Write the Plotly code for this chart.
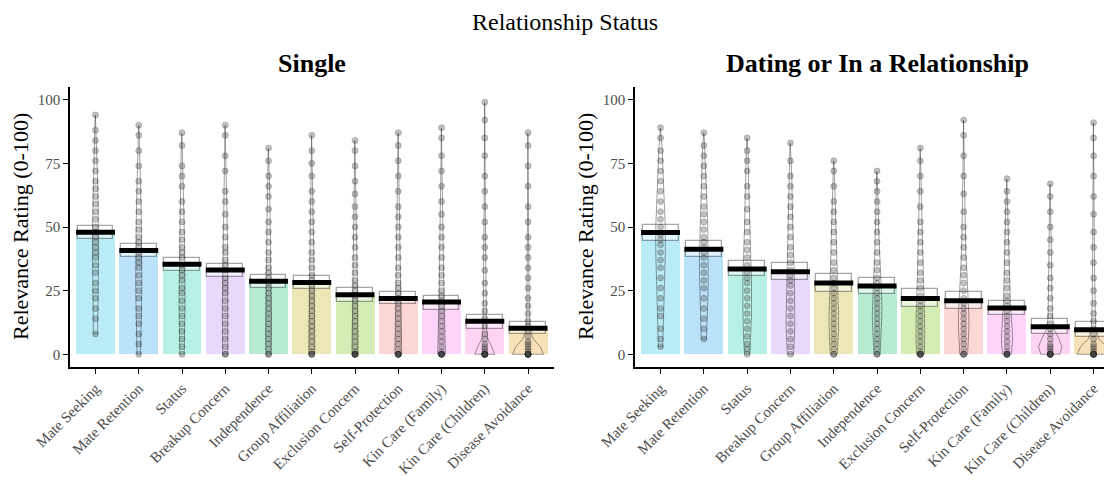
import numpy as np
import plotly.graph_objects as go

# ---------------- data ----------------
cats_single = ["Mate Seeking", "Mate Retention", "Status", "Breakup Concern", "Independence",
               "Group Affiliation", "Exclusion Concern", "Self-Protection", "Kin Care (Family)",
               "Kin Care (Children)", "Disease Avoidance"]
cats_dating = ["Mate Seeking", "Mate Retention", "Status", "Breakup Concern", "Group Affiliation",
               "Independence", "Exclusion Concern", "Self-Protection", "Kin Care (Family)",
               "Kin Care (Children)", "Disease Avoidance"]

mean_single = [47.9, 40.8, 35.4, 33.1, 28.7, 28.2, 23.4, 21.9, 20.5, 13.0, 10.2]
cilo_single = [45.3, 38.3, 32.8, 30.4, 26.1, 25.6, 20.6, 19.6, 17.4, 10.1, 7.9]
cihi_single = [50.4, 43.3, 37.7, 35.6, 31.2, 30.8, 26.1, 24.3, 23.0, 15.6, 12.6]

mean_dating = [47.8, 41.3, 33.5, 32.4, 28.0, 26.8, 21.9, 21.0, 18.2, 10.8, 9.6]
cilo_dating = [44.5, 38.3, 30.6, 29.3, 24.3, 23.6, 18.6, 17.8, 15.5, 7.9, 6.7]
cihi_dating = [50.9, 44.5, 36.6, 35.7, 31.5, 29.9, 25.5, 24.3, 21.1, 13.7, 12.5]

cat_colors = {
    "Mate Seeking": "rgba(110,215,240,0.48)",
    "Mate Retention": "rgba(110,195,245,0.48)",
    "Status": "rgba(105,225,200,0.48)",
    "Breakup Concern": "rgba(210,175,245,0.48)",
    "Independence": "rgba(105,215,160,0.48)",
    "Group Affiliation": "rgba(215,205,105,0.48)",
    "Exclusion Concern": "rgba(170,215,100,0.48)",
    "Self-Protection": "rgba(250,165,165,0.45)",
    "Kin Care (Family)": "rgba(250,160,245,0.45)",
    "Kin Care (Children)": "rgba(250,160,225,0.45)",
    "Disease Avoidance": "rgba(240,195,115,0.50)",
}

# raw-rating samples (approximate)
pts_single = [
    [94, 88, 84, 80, 76, 72, 68, 65, 62, 59, 56, 53, 50, 48, 46, 44, 42, 40, 38, 35, 32, 28, 25, 22, 18, 14, 8],
    [90, 86, 80, 74, 68, 64, 60, 56, 52, 49, 46, 44, 42, 40, 38, 36, 34, 31, 28, 25, 22, 18, 15, 12, 8, 4, 0],
    [87, 82, 74, 70, 66, 60, 56, 52, 48, 45, 42, 40, 38, 35, 33, 31, 29, 26, 24, 21, 18, 15, 12, 9, 6, 3, 0],
    [90, 86, 78, 72, 64, 60, 55, 50, 46, 42, 40, 37, 35, 33, 30, 28, 26, 24, 21, 18, 15, 12, 9, 6, 3, 0, 0],
    [81, 76, 70, 66, 62, 57, 52, 48, 44, 40, 37, 34, 32, 30, 28, 26, 24, 22, 20, 18, 16, 14, 12, 10, 8, 6, 4, 2, 0, 0],
    [86, 80, 75, 70, 64, 60, 56, 52, 48, 44, 40, 37, 34, 31, 29, 27, 25, 23, 21, 19, 17, 15, 13, 11, 9, 7, 5, 3, 1, 0, 0, 0],
    [84, 80, 74, 68, 63, 58, 54, 50, 46, 42, 38, 35, 32, 29, 27, 25, 23, 21, 19, 17, 15, 13, 11, 9, 7, 5, 3, 1, 0, 0, 0, 0, 0, 0],
    [87, 82, 76, 70, 64, 58, 54, 50, 46, 42, 38, 34, 31, 28, 26, 24, 22, 20, 18, 16, 14, 12, 10, 8, 6, 4, 2, 0, 0, 0, 0, 0, 0],
    [89, 85, 78, 72, 66, 60, 55, 50, 46, 42, 38, 34, 31, 28, 25, 23, 21, 19, 17, 15, 13, 11, 9, 7, 5, 3, 1, 0, 0, 0, 0, 0, 0],
    [99, 92, 85, 78, 70, 64, 58, 52, 46, 42, 38, 33, 28, 24, 20, 17, 14, 11, 8, 6, 4, 3, 2, 1, 0, 0, 0, 0, 0, 0, 0, 0],
    [87, 82, 74, 66, 58, 52, 46, 42, 38, 34, 30, 26, 22, 19, 16, 13, 11, 9, 7, 5, 4, 3, 2, 1, 0, 0, 0, 0, 0, 0, 0, 0],
]
pts_dating = [
    [89, 85, 80, 76, 72, 68, 64, 60, 56, 53, 50, 47, 45, 43, 40, 37, 34, 30, 26, 22, 18, 15, 10, 6, 3],
    [87, 82, 78, 74, 70, 66, 62, 58, 55, 52, 49, 46, 44, 42, 40, 38, 35, 32, 29, 26, 22, 18, 14, 10, 6],
    [85, 80, 76, 72, 66, 62, 57, 52, 48, 44, 41, 38, 35, 32, 30, 28, 25, 22, 19, 16, 13, 10, 7, 4, 2, 0],
    [83, 76, 70, 66, 62, 58, 54, 50, 46, 42, 39, 36, 33, 31, 29, 27, 24, 21, 18, 15, 12, 9, 6, 3, 0],
    [76, 72, 66, 60, 56, 52, 48, 44, 40, 36, 33, 30, 28, 26, 24, 22, 20, 18, 16, 14, 12, 10, 8, 6, 4, 2, 0, 0],
    [72, 68, 64, 60, 56, 52, 48, 44, 40, 36, 33, 30, 28, 26, 24, 22, 20, 18, 16, 14, 12, 10, 8, 6, 4, 2, 0, 0],
    [81, 76, 70, 64, 58, 52, 48, 44, 40, 36, 32, 29, 26, 23, 21, 19, 17, 15, 13, 11, 9, 7, 5, 3, 1, 0, 0, 0, 0, 0],
    [92, 86, 78, 70, 63, 56, 50, 46, 42, 38, 34, 31, 28, 25, 22, 20, 18, 16, 14, 12, 10, 8, 6, 4, 2, 0, 0, 0],
    [69, 64, 60, 56, 52, 48, 44, 40, 36, 32, 29, 26, 23, 21, 19, 17, 15, 13, 11, 9, 7, 5, 3, 1, 0, 0, 0, 0, 0],
    [67, 62, 56, 50, 45, 40, 35, 30, 26, 22, 18, 15, 12, 10, 8, 6, 4, 3, 2, 1, 0, 0, 0, 0, 0, 0, 0],
    [91, 85, 78, 70, 62, 55, 48, 42, 36, 30, 25, 20, 16, 13, 10, 8, 6, 4, 3, 2, 1, 0, 0, 0, 0, 0, 0, 0],
]

# estimated density (bean half-width, in category units) at these rating levels
dens_levels = [0, 3, 6, 10, 15, 20, 30, 40, 50, 60, 70, 80, 90, 100]
dens_single = [
    [0.04, 0.04, 0.045, 0.05, 0.055, 0.06, 0.065, 0.07, 0.07, 0.06, 0.045, 0.03, 0.015, 0.005],
    [0.04, 0.045, 0.05, 0.055, 0.06, 0.065, 0.07, 0.07, 0.06, 0.05, 0.04, 0.025, 0.01, 0.004],
    [0.05, 0.05, 0.055, 0.06, 0.065, 0.07, 0.07, 0.06, 0.05, 0.04, 0.03, 0.02, 0.008, 0.003],
    [0.06, 0.06, 0.06, 0.065, 0.07, 0.07, 0.065, 0.055, 0.045, 0.035, 0.025, 0.015, 0.008, 0.003],
    [0.06, 0.065, 0.07, 0.07, 0.07, 0.065, 0.06, 0.05, 0.04, 0.03, 0.02, 0.01, 0.004, 0.002],
    [0.07, 0.07, 0.07, 0.07, 0.07, 0.065, 0.055, 0.045, 0.035, 0.025, 0.018, 0.01, 0.004, 0.002],
    [0.07, 0.07, 0.07, 0.07, 0.065, 0.06, 0.05, 0.04, 0.03, 0.022, 0.015, 0.008, 0.004, 0.002],
    [0.08, 0.08, 0.075, 0.07, 0.065, 0.06, 0.05, 0.04, 0.03, 0.022, 0.015, 0.01, 0.005, 0.002],
    [0.09, 0.085, 0.08, 0.075, 0.07, 0.06, 0.05, 0.04, 0.03, 0.022, 0.015, 0.01, 0.006, 0.003],
    [0.23, 0.16, 0.07, 0.04, 0.035, 0.03, 0.025, 0.02, 0.015, 0.012, 0.01, 0.008, 0.005, 0.003],
    [0.36, 0.28, 0.12, 0.04, 0.03, 0.025, 0.02, 0.015, 0.012, 0.01, 0.008, 0.006, 0.004, 0.002],
]
dens_dating = [
    [0.05, 0.05, 0.055, 0.06, 0.07, 0.08, 0.09, 0.11, 0.11, 0.08, 0.06, 0.04, 0.02, 0.005],
    [0.05, 0.05, 0.06, 0.07, 0.08, 0.09, 0.1, 0.1, 0.09, 0.07, 0.05, 0.03, 0.01, 0.004],
    [0.06, 0.07, 0.08, 0.09, 0.1, 0.1, 0.1, 0.08, 0.06, 0.045, 0.03, 0.02, 0.008, 0.003],
    [0.07, 0.08, 0.09, 0.1, 0.1, 0.1, 0.09, 0.07, 0.05, 0.04, 0.03, 0.015, 0.006, 0.002],
    [0.08, 0.09, 0.1, 0.11, 0.11, 0.1, 0.08, 0.06, 0.04, 0.03, 0.015, 0.006, 0.003, 0.002],
    [0.07, 0.08, 0.09, 0.1, 0.11, 0.11, 0.08, 0.05, 0.035, 0.025, 0.012, 0.005, 0.002, 0.001],
    [0.09, 0.1, 0.1, 0.1, 0.1, 0.09, 0.07, 0.05, 0.035, 0.025, 0.015, 0.008, 0.004, 0.002],
    [0.09, 0.1, 0.11, 0.12, 0.12, 0.11, 0.08, 0.05, 0.035, 0.025, 0.015, 0.01, 0.006, 0.003],
    [0.1, 0.12, 0.13, 0.12, 0.1, 0.08, 0.06, 0.045, 0.035, 0.025, 0.015, 0.008, 0.004, 0.002],
    [0.22, 0.27, 0.2, 0.08, 0.05, 0.04, 0.03, 0.025, 0.02, 0.015, 0.01, 0.008, 0.005, 0.003],
    [0.38, 0.3, 0.12, 0.05, 0.04, 0.03, 0.025, 0.02, 0.015, 0.012, 0.01, 0.008, 0.005, 0.003],
]

# ---------------- figure ----------------
FONT = "Liberation Serif, Times New Roman, serif"
W, H = 1112, 491
OFF = 8  # page body margin: screen position = figure position + OFF


def px(sx):
    return (sx - OFF) / W


def py(sy):
    return 1 - (sy - OFF) / H


fig = go.Figure()

panels = [
    (cats_single, mean_single, cilo_single, cihi_single, pts_single, dens_single, "x", "y"),
    (cats_dating, mean_dating, cilo_dating, cihi_dating, pts_dating, dens_dating, "x2", "y2"),
]

BAR_W = 0.9
BOX_W = 0.83
for cats, means, lo, hi, pts, dens, xa, ya in panels:
    xs = list(range(len(cats)))
    # bars
    fig.add_trace(go.Bar(x=xs, y=means, width=BAR_W,
                         marker=dict(color=[cat_colors[c] for c in cats], line=dict(width=0)),
                         xaxis=xa, yaxis=ya, showlegend=False, hoverinfo="skip"))
    for i, c in enumerate(cats):
        vals = pts[i]
        vmin, vmax = min(vals), max(vals)
        lev = [vmin] + [l for l in dens_levels if vmin < l < vmax] + [vmax]
        wd = np.interp(lev, dens_levels, dens[i])
        wd[-1] = min(wd[-1], 0.004)
        bx = [i + w for w in wd] + [i - w for w in wd[::-1]] + [i + wd[0]]
        by = lev + lev[::-1] + [lev[0]]
        fig.add_trace(go.Scatter(x=bx, y=by, mode="lines",
                                 line=dict(color="rgba(0,0,0,0.38)", width=1),
                                 xaxis=xa, yaxis=ya, showlegend=False, hoverinfo="skip"))
        fig.add_trace(go.Scatter(x=[i] * len(vals), y=vals, mode="markers",
                                 marker=dict(size=6, color="rgba(60,60,60,0.3)",
                                             line=dict(color="rgba(30,30,30,0.3)", width=0.8)),
                                 xaxis=xa, yaxis=ya, showlegend=False, hoverinfo="skip"))
    # inference bands
    fig.add_trace(go.Bar(x=xs, y=[h - l for h, l in zip(hi, lo)], base=lo, width=BOX_W,
                         marker=dict(color="rgba(255,255,255,0.55)",
                                     line=dict(color="rgba(0,0,0,0.35)", width=1.3)),
                         xaxis=xa, yaxis=ya, showlegend=False, hoverinfo="skip"))
    # mean lines
    mx, my = [], []
    for i, m in enumerate(means):
        mx += [i - BAR_W / 2, i + BAR_W / 2, None]
        my += [m, m, None]
    fig.add_trace(go.Scatter(x=mx, y=my, mode="lines", line=dict(color="black", width=5),
                             xaxis=xa, yaxis=ya, showlegend=False, hoverinfo="skip"))

ydom = [py(367), py(87)]
axis_common = dict(showgrid=False, zeroline=False, showline=True, linecolor="black", linewidth=1.6,
                   ticks="outside", ticklen=5, tickwidth=1.2, tickcolor="black", automargin=False,
                   tickfont=dict(family=FONT, size=15, color="#4d4d4d"))
yaxis_common = dict(axis_common, range=[-5, 105], tickvals=[0, 25, 50, 75, 100], domain=ydom)

fig.update_layout(
    template="none",
    width=W, height=H, margin=dict(l=0, r=0, t=0, b=0, pad=0),
    paper_bgcolor="white", plot_bgcolor="white",
    barmode="overlay", bargap=0,
    xaxis=dict(axis_common, domain=[px(70), px(554)], range=[-0.59, 10.6],
               tickvals=list(range(len(cats_single))), ticktext=cats_single, tickangle=-45, anchor="y"),
    yaxis=dict(yaxis_common, anchor="x"),
    xaxis2=dict(axis_common, domain=[px(635), 1.0], range=[-0.59, 10.61],
                tickvals=list(range(len(cats_dating))), ticktext=cats_dating, tickangle=-45, anchor="y2"),
    yaxis2=dict(yaxis_common, anchor="x2"),
    font=dict(family=FONT),
    annotations=[
        dict(text="Relationship Status", x=px(565), y=py(22), xref="paper", yref="paper",
             showarrow=False, font=dict(family=FONT, size=24, color="black"),
             xanchor="center", yanchor="middle"),
        dict(text="<b>Single</b>", x=px(312), y=py(63), xref="paper", yref="paper",
             showarrow=False, font=dict(family=FONT, size=26, color="black"),
             xanchor="center", yanchor="middle"),
        dict(text="<b>Dating or In a Relationship</b>", x=px(877), y=py(63), xref="paper", yref="paper",
             showarrow=False, font=dict(family=FONT, size=26, color="black"),
             xanchor="center", yanchor="middle"),
        dict(text="Relevance Rating (0-100)", x=px(20), y=py(227), xref="paper", yref="paper",
             showarrow=False, textangle=-90, font=dict(family=FONT, size=22, color="black"),
             xanchor="center", yanchor="middle"),
        dict(text="Relevance Rating (0-100)", x=px(585), y=py(227), xref="paper", yref="paper",
             showarrow=False, textangle=-90, font=dict(family=FONT, size=22, color="black"),
             xanchor="center", yanchor="middle"),
    ],
)

fig.write_html("out.html")
